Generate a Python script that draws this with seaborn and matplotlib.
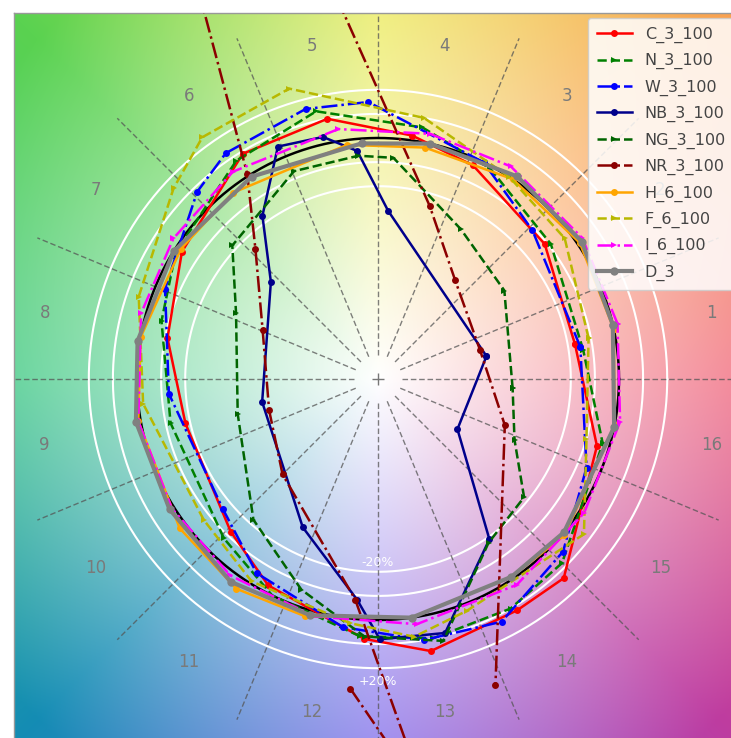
import numpy as np
import matplotlib
matplotlib.use("Agg")
import matplotlib.pyplot as plt
import seaborn as sns

# ---------------- data (hue angle in degrees, relative chroma radius) ----------------
C_ang = [10, 39, 66, 82, 101, 121, 147, 169, 193, 226, 242, 267, 281, 301, 313, 343]
C_r = [0.83, 0.89, 0.97, 1.02, 1.10, 1.09, 0.97, 0.89, 0.82, 0.88, 0.97, 1.08, 1.15, 1.12, 1.13, 0.95]

N_ang = [8, 38, 62, 80, 103, 123, 148, 165, 192, 226, 244, 266, 282, 300, 315, 344]
N_r = [0.86, 0.91, 0.99, 1.06, 1.14, 1.08, 0.99, 0.93, 0.88, 0.92, 1.00, 1.07, 1.10, 1.10, 1.08, 0.97]

W_ang = [9, 44, 64, 92, 105, 124, 134, 157, 184, 220, 238, 262, 280, 297, 317, 337]
W_r = [0.85, 0.89, 1.00, 1.15, 1.16, 1.13, 1.08, 0.96, 0.87, 0.84, 0.95, 1.04, 1.10, 1.13, 1.05, 0.94]

NB_ang = [11.9, 86.6, 95.2, 102.8, 113.3, 125.3, 137.8, 191.2, 243.1, 264.6, 270.4, 284.8, 304.8, 327.7]
NB_r = [0.46, 0.70, 0.95, 1.03, 1.05, 0.83, 0.60, 0.49, 0.69, 0.92, 1.08, 1.09, 0.81, 0.39]

NG_ang = [-4, 35, 61, 86, 95, 112, 137.5, 155, 194, 228.5, 250, 267, 284, 304, 321, 336]
NG_r = [0.56, 0.64, 0.71, 0.92, 0.93, 0.93, 0.82, 0.65, 0.60, 0.78, 0.93, 1.07, 1.12, 0.82, 0.78, 0.62]

NR_ang = [264.9, 276.6, 264.1, 225, 196, 157, 133.4, 122.5, 108.4, 73.4, 52, 15.9, -20, -69]
NR_r = [1.29, 1.76, 0.92, 0.56, 0.47, 0.52, 0.74, 1.01, 4.97, 0.75, 0.52, 0.44, 0.56, 1.36]

H_ang = [12, 34, 56, 78.5, 97.5, 128, 146.5, 170, 190, 217, 236, 253, 278, 304, 320, 349]
H_r = [1.00, 1.01, 1.00, 0.98, 0.98, 0.98, 0.98, 1.00, 1.01, 1.03, 1.05, 1.03, 1.00, 0.99, 1.01, 1.00]

F_ang = [11, 37, 57, 80, 107, 126, 137, 161, 186, 219, 238, 263.5, 278, 291, 323, 344]
F_r = [0.89, 0.97, 1.00, 1.10, 1.26, 1.24, 1.16, 1.05, 0.98, 0.93, 0.99, 1.02, 1.08, 1.03, 1.07, 0.90]

I_ang = [13, 34.6, 58, 78, 99, 125, 145.5, 164.5, 190, 212, 233, 255, 279, 304, 327, 350]
I_r = [1.02, 1.03, 1.04, 1.04, 1.05, 1.05, 1.03, 1.02, 1.01, 1.01, 1.02, 1.02, 1.03, 1.03, 1.02, 1.02]

D_ang = [13, 34, 55.5, 77.6, 94, 122, 148, 171, 190, 212, 234, 254, 278, 304, 320.5, 348.5]
D_r = [1.00, 1.02, 1.02, 1.00, 0.98, 0.99, 1.00, 1.01, 1.02, 1.02, 1.04, 1.02, 1.00, 0.99, 1.00, 1.00]

series_names = ["C_3_100", "N_3_100", "W_3_100", "NB_3_100", "NG_3_100",
                "NR_3_100", "H_6_100", "F_6_100", "I_6_100", "D_3"]
hue_labels = [str(i) for i in range(1, 17)]
ring_labels = ["-20%", "+20%"]

# ---------------- styles ----------------
styles = {
    "C_3_100": dict(ang=C_ang, r=C_r, color="#ff0000", ls="-", marker="o", closed=True),
    "N_3_100": dict(ang=N_ang, r=N_r, color="#008000", ls="--", marker=">", closed=True),
    "W_3_100": dict(ang=W_ang, r=W_r, color="#0000ff", ls="-.", marker="o", closed=True),
    "NB_3_100": dict(ang=NB_ang, r=NB_r, color="#00008b", ls="-", marker="o", closed=True),
    "NG_3_100": dict(ang=NG_ang, r=NG_r, color="#006400", ls="--", marker=">", closed=True),
    "NR_3_100": dict(ang=NR_ang, r=NR_r, color="#8b0000", ls="-.", marker="o", closed=False),
    "H_6_100": dict(ang=H_ang, r=H_r, color="#ffa500", ls="-", marker="o", closed=True),
    "F_6_100": dict(ang=F_ang, r=F_r, color="#b8b800", ls="--", marker=">", closed=True),
    "I_6_100": dict(ang=I_ang, r=I_r, color="#ff00ff", ls="-.", marker=">", closed=True),
    "D_3": dict(ang=D_ang, r=D_r, color="#808080", ls="-", marker="o", closed=True),
}

# ---------------- figure ----------------
fig = plt.figure(figsize=(7.31, 7.38), dpi=100)
ax = fig.add_axes([14 / 731, (738 - 745) / 738, 728 / 731, 732 / 738])
PX = 241.0
xlim = (-364 / PX, 364 / PX)
ylim = (-366 / PX, 366 / PX)

# hue background
gx = np.linspace(xlim[0], xlim[1], 500)
gy = np.linspace(ylim[0], ylim[1], 500)
X, Y = np.meshgrid(gx, gy)
theta = np.degrees(np.arctan2(Y, X)) % 360
rho = np.hypot(X, Y)
anc_ang = np.array([0, 45, 90, 135, 180, 225, 270, 315, 360])
anc_col = np.array([
    (240, 100, 120), (250, 160, 80), (235, 235, 90), (90, 210, 80),
    (60, 200, 130), (20, 140, 180), (130, 110, 235), (190, 60, 160),
    (240, 100, 120)], dtype=float) / 255.0
col = np.stack([np.interp(theta, anc_ang, anc_col[:, i]) for i in range(3)], axis=-1)
s = np.clip(rho / 2.0, 0, 1)[..., None]
img = 1 - s * (1 - col)
ax.imshow(img, extent=[xlim[0], xlim[1], ylim[0], ylim[1]], origin="lower",
          aspect="auto", interpolation="bilinear", zorder=0)

t = np.linspace(0, 2 * np.pi, 400)
for rr in [0.8, 0.9, 1.1, 1.2]:
    ax.plot(rr * np.cos(t), rr * np.sin(t), color="white", lw=1.5, zorder=1)

for k in range(16):
    a = np.radians(k * 22.5)
    ax.plot([0.1 * np.cos(a), 1.53 * np.cos(a)], [0.1 * np.sin(a), 1.53 * np.sin(a)],
            color="#555555", ls=(0, (4, 2)), lw=1.0, alpha=0.75, zorder=2)
ax.plot([0], [0], marker="+", color="#777777", ms=9, mew=1, zorder=2)

for k, lab in enumerate(hue_labels):
    a = np.radians(11.25 + 22.5 * k)
    ax.text(1.41 * np.cos(a), 1.41 * np.sin(a), lab, color="#7a7a7a", fontsize=12,
            ha="center", va="center", zorder=2)

ax.plot(np.cos(t), np.sin(t), color="black", lw=1.8, zorder=3)

for i, name in enumerate(series_names):
    st = styles[name]
    ang = np.radians(np.array(st["ang"], dtype=float))
    rr = np.array(st["r"], dtype=float)
    xs = rr * np.cos(ang)
    ys = rr * np.sin(ang)
    if st["closed"]:
        xs = np.append(xs, xs[0])
        ys = np.append(ys, ys[0])
    lw = 3.0 if name == "D_3" else 1.8
    ms = 6 if name == "D_3" else 5
    sns.lineplot(x=xs, y=ys, sort=False, estimator=None, ax=ax, label=name,
                 color=st["color"], linestyle=st["ls"], marker=st["marker"],
                 markersize=ms, markeredgewidth=0, linewidth=lw, zorder=4 + i)

ax.text(0, -0.76, ring_labels[0], color="white", fontsize=9, ha="center", va="center", zorder=20)
ax.text(0, -1.257, ring_labels[1], color="white", fontsize=9, ha="center", va="center", zorder=20)

ax.set_xlim(*xlim)
ax.set_ylim(*ylim)
ax.set_xticks([])
ax.set_yticks([])
ax.set_xlabel("")
ax.set_ylabel("")
for sp in ax.spines.values():
    sp.set_color("#999999")
    sp.set_linewidth(1.0)

leg = ax.legend(loc="upper left", bbox_to_anchor=((588 - 14) / 728, 1 - (18 - 13) / 732),
                borderaxespad=0.0, fontsize=11.5, labelspacing=0.64, handlelength=2.2,
                borderpad=0.55, framealpha=0.85, edgecolor="#cccccc")
leg.set_zorder(30)
for txt in leg.get_texts():
    txt.set_color("#444444")

fig.savefig("out.png", dpi=100)
